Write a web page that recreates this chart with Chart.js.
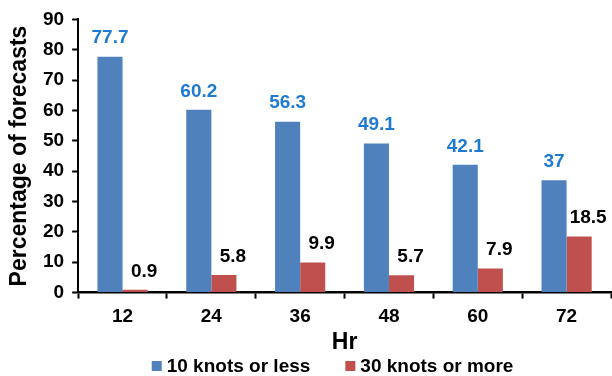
<!DOCTYPE html>
<html>
<head>
<meta charset="utf-8">
<script src="https://cdn.jsdelivr.net/npm/chart.js@4/dist/chart.umd.min.js"></script>
<style>
  html, body { margin: 0; padding: 0; background: #ffffff; }
  canvas { display: block; }
</style>
</head>
<body>
<canvas id="chart" width="612" height="376"></canvas>
<script>
// Forecast lead times (hours)
const hours = ['12', '24', '36', '48', '60', '72'];
// Percentage of forecasts with error of 10 knots or less
const lowError = [77.7, 60.2, 56.3, 49.1, 42.1, 37];
// Percentage of forecasts with error of 30 knots or more
const highError = [0.9, 5.8, 9.9, 5.7, 7.9, 18.5];
const seriesNames = ['10 knots or less', '30 knots or more'];
const yTicks = [0, 10, 20, 30, 40, 50, 60, 70, 80, 90];

const FONT = "'Liberation Sans', Arial, sans-serif";
const BLUE = '#4f81bd';
const RED = '#c0504d';

// Value labels above each bar
const valueLabels = {
  id: 'valueLabels',
  afterDatasetsDraw(chart) {
    const ctx = chart.ctx;
    ctx.save();
    ctx.font = 'bold 19px ' + FONT;
    ctx.textAlign = 'center';
    ctx.textBaseline = 'bottom';
    chart.data.datasets.forEach((ds, i) => {
      const meta = chart.getDatasetMeta(i);
      meta.data.forEach((bar, j) => {
        ctx.fillStyle = i === 0 ? '#1f7ad2' : '#000000';
        const dx = i === 0 ? 0 : 9;
        ctx.fillText(String(ds.data[j]), bar.x + dx, bar.y - 9);
      });
    });
    ctx.restore();
  }
};

// Legend row under the axis title
const bottomLegend = {
  id: 'bottomLegend',
  afterDraw(chart) {
    const ctx = chart.ctx;
    const area = chart.chartArea;
    ctx.save();
    ctx.font = 'bold 19px ' + FONT;
    ctx.textBaseline = 'middle';
    const box = 10, gapText = 5, gapItem = 35;
    const items = chart.data.datasets.map(ds => ({
      label: ds.label, color: ds.backgroundColor,
      w: box + gapText + ctx.measureText(ds.label).width
    }));
    const total = items.reduce((s, it) => s + it.w, 0) + gapItem * (items.length - 1);
    let x = (area.left + area.right) / 2 - 12 - total / 2;
    const y = 366;
    items.forEach(it => {
      ctx.fillStyle = it.color;
      ctx.fillRect(x, y - box / 2, box, box);
      ctx.fillStyle = '#000000';
      ctx.textAlign = 'left';
      ctx.fillText(it.label, x + box + gapText, y + 1);
      x += it.w + gapItem;
    });
    ctx.restore();
  }
};

new Chart(document.getElementById('chart'), {
  type: 'bar',
  data: {
    labels: hours,
    datasets: [
      { label: seriesNames[0], data: lowError, backgroundColor: BLUE,
        categoryPercentage: 0.565, barPercentage: 1.0 },
      { label: seriesNames[1], data: highError, backgroundColor: RED,
        categoryPercentage: 0.565, barPercentage: 1.0 }
    ]
  },
  options: {
    responsive: false,
    devicePixelRatio: 1,
    animation: false,
    layout: { padding: { left: 8, right: 1, top: 2, bottom: 24 } },
    plugins: {
      legend: { display: false },
      tooltip: { enabled: false }
    },
    scales: {
      x: {
        ticks: { color: '#000', font: { family: FONT, size: 19, weight: 'bold', lineHeight: 1.0 }, padding: 9 },
        grid: { drawOnChartArea: false, offset: true, tickLength: 6, tickColor: '#000', tickWidth: 2 },
        border: { color: '#000', width: 2.5 },
        title: { display: true, text: 'Hr', color: '#000',
                 font: { family: FONT, size: 23, weight: 'bold', lineHeight: 0.8 },
                 padding: { top: -2, bottom: 0 } }
      },
      y: {
        min: 0, max: 90,
        afterBuildTicks(axis) { axis.ticks = yTicks.map(v => ({ value: v })); },
        ticks: { color: '#000', font: { family: FONT, size: 19, weight: 'bold' }, padding: 8 },
        grid: { drawOnChartArea: false, tickLength: 6, tickColor: '#000', tickWidth: 2 },
        border: { color: '#000', width: 2 },
        title: { display: true, text: 'Percentage of forecasts', color: '#000',
                 font: { family: FONT, size: 23, weight: 'bold', lineHeight: 1.0 },
                 padding: { top: 0, bottom: 4 } }
      }
    }
  },
  plugins: [valueLabels, bottomLegend]
});
</script>
</body>
</html>
